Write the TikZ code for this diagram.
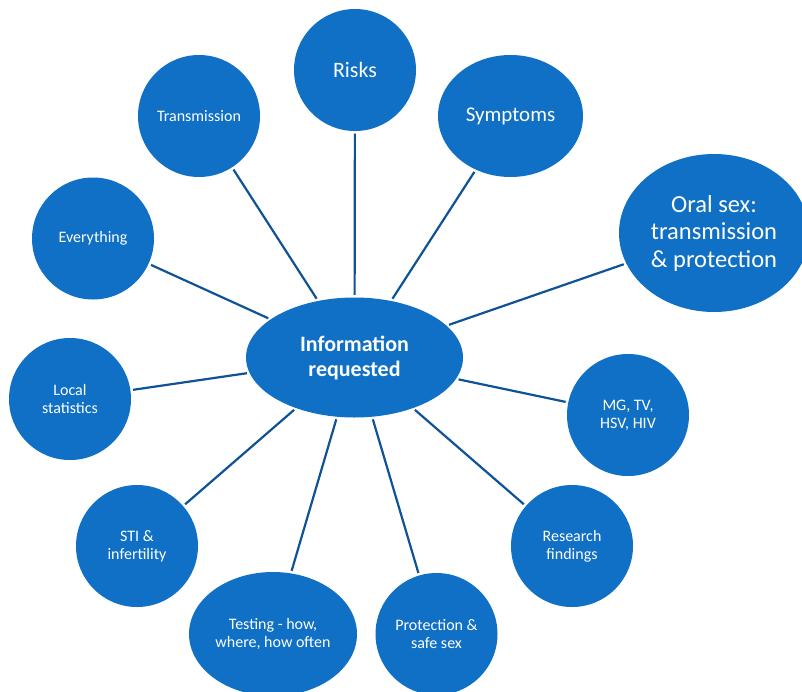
\documentclass[tikz,border=0pt]{standalone}
\usepackage{fontspec}
\setmainfont{Carlito}
\usetikzlibrary{shapes.geometric}
\definecolor{bubble}{HTML}{0F70C5}
\definecolor{spoke}{HTML}{0F5396}
\tikzset{
  bubble/.style={ellipse, fill=bubble, draw=none, text=white, inner sep=0pt,
    align=center, font=\fontsize{16}{18}\selectfont},
  spoke/.style={draw=spoke, line width=2.2pt, shorten <=2.5pt, shorten >=2.5pt},
}
\begin{document}
\begin{tikzpicture}[x=1pt, y=-1pt]
\clip (0,0) rectangle (802,691);
\fill[white] (0,0) rectangle (802,691);

% hub
\node[bubble, minimum width=217pt, minimum height=120pt,
  font=\fontsize{22}{25}\selectfont\bfseries] (hub) at (354.5,357.5) {Information\\requested};

% topics around the hub
\node[bubble, minimum width=122pt, minimum height=122pt,
  font=\fontsize{22}{25}\selectfont] (risks) at (355,70) {Risks};
\node[bubble, minimum width=145pt, minimum height=122pt,
  font=\fontsize{21}{24}\selectfont] (symptoms) at (510.5,116) {Symptoms};
\node[bubble, minimum width=122pt, minimum height=122pt] (transmission) at (199,116) {Transmission};
\node[bubble, minimum width=122pt, minimum height=122pt] (everything) at (93,238.5) {Everything};
\node[bubble, minimum width=190pt, minimum height=158pt,
  font=\fontsize{24.5}{27.5}\selectfont] (oral) at (714,233) {Oral sex:\\transmission\\\& protection};
\node[bubble, minimum width=122pt, minimum height=122pt] (local) at (70,399) {Local\\statistics};
\node[bubble, minimum width=122pt, minimum height=122pt] (mg) at (628,415) {MG, TV,\\HSV, HIV};
\node[bubble, minimum width=122pt, minimum height=122pt] (research) at (572,546) {Research\\findings};
\node[bubble, minimum width=122pt, minimum height=122pt] (sti) at (137,546) {STI \&\\infertility};
\node[bubble, minimum width=168pt, minimum height=124pt] (testing) at (273,634) {Testing - how,\\where, how often};
\node[bubble, minimum width=122pt, minimum height=122pt] (protection) at (436.5,634) {Protection \&\\safe sex};

% spokes
\foreach \n in {risks,symptoms,transmission,everything,oral,local,mg,research,sti,testing,protection}
  \draw[spoke] (hub) -- (\n);
\end{tikzpicture}
\end{document}
